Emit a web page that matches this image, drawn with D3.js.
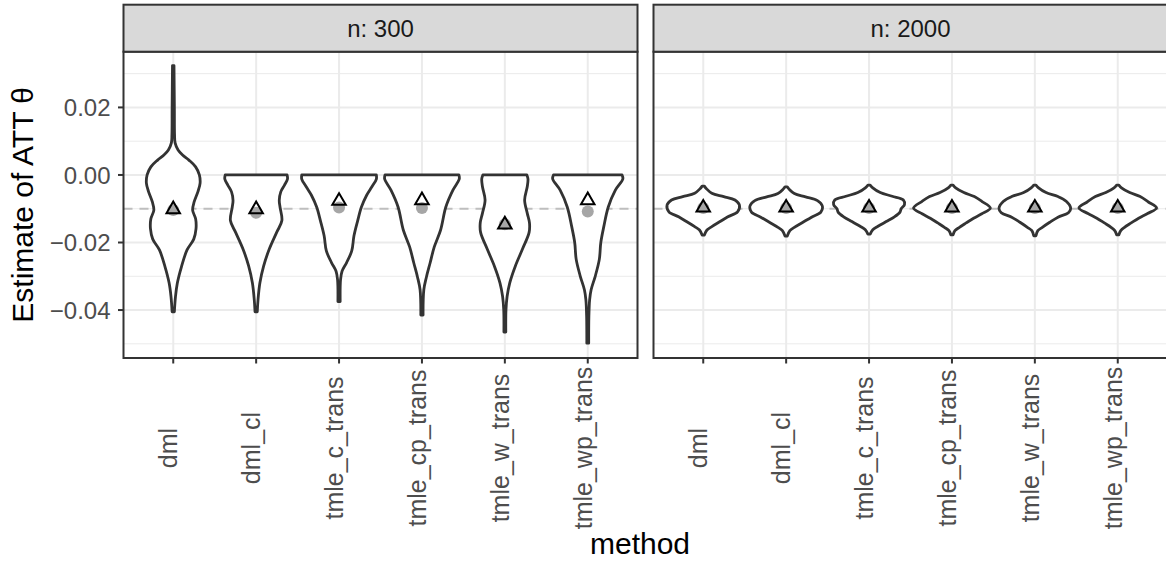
<!DOCTYPE html>
<html>
<head>
<meta charset="utf-8">
<script src="https://cdn.jsdelivr.net/npm/d3@7"></script>
<style>
  html, body { margin: 0; padding: 0; background: #fff; }
  text { font-family: "Liberation Sans", Arial, sans-serif; }
</style>
</head>
<body>
<div id="chart"></div>
<script>
/* Violin plots of ATT estimates by method, faceted by sample size */

const methods  = ['dml', 'dml_cl', 'tmle_c_trans', 'tmle_cp_trans', 'tmle_w_trans', 'tmle_wp_trans'];
const panels   = ['n: 300', 'n: 2000'];
const yTicks   = [-0.04, -0.02, 0.00, 0.02];
const yMinor   = [-0.05, -0.03, -0.01, 0.01, 0.03];
const yDomain  = [-0.0542, 0.0365];
const trueATT  = -0.01;

// gray dots (one per method)
const dotsN300  = [-0.0104, -0.0112, -0.0096, -0.0098, -0.0146, -0.0108];
const dotsN2000 = [-0.0098, -0.0098, -0.0098, -0.0098, -0.0098, -0.0098];
// triangles (one per method)
const triN300   = [-0.0102, -0.0102, -0.0077, -0.0075, -0.0147, -0.0075];
const triN2000  = [-0.0097, -0.0097, -0.0097, -0.0097, -0.0097, -0.0097];

// violin outlines: [value, relative half-width]
const violinsN300 = [
  [[0.0324,0.02],[0.020,0.03],[0.012,0.035],[0.0095,0.05],[0.0074,0.13],[0.0059,0.25],[0.0044,0.42],
   [0.0024,0.60],[0.0,0.70],[-0.0024,0.72],[-0.0050,0.66],[-0.0080,0.56],[-0.0104,0.52],[-0.0130,0.60],
   [-0.0160,0.61],[-0.0190,0.55],[-0.0222,0.37],[-0.0272,0.22],[-0.0320,0.11],[-0.0360,0.06],[-0.0405,0.03]],
  [[0.0,0.83],[-0.0012,0.84],[-0.0030,0.76],[-0.0050,0.66],[-0.0075,0.62],[-0.0095,0.64],[-0.0135,0.69],
   [-0.0170,0.55],[-0.0220,0.35],[-0.0270,0.20],[-0.0320,0.10],[-0.0370,0.05],[-0.0405,0.03]],
  [[0.0,1.00],[-0.0012,1.00],[-0.0035,0.88],[-0.0060,0.74],[-0.0095,0.60],[-0.0135,0.50],[-0.0180,0.40],
   [-0.0225,0.34],[-0.0260,0.20],[-0.0285,0.08],[-0.0310,0.04],[-0.0375,0.03]],
  [[0.0,0.99],[-0.0012,1.00],[-0.0045,0.83],[-0.0095,0.64],[-0.0163,0.50],[-0.0213,0.33],[-0.0260,0.22],
   [-0.0302,0.12],[-0.0340,0.05],[-0.0415,0.03]],
  [[0.0,0.59],[-0.0012,0.62],[-0.0035,0.60],[-0.0074,0.53],[-0.0113,0.60],[-0.0142,0.66],[-0.0170,0.65],
   [-0.0220,0.47],[-0.0270,0.28],[-0.0320,0.13],[-0.0360,0.06],[-0.0400,0.03],[-0.0465,0.025]],
  [[0.0,0.92],[-0.0012,0.94],[-0.0045,0.74],[-0.0095,0.55],[-0.0153,0.43],[-0.0200,0.35],[-0.0250,0.31],
   [-0.0300,0.20],[-0.0340,0.09],[-0.0370,0.05],[-0.0420,0.03],[-0.0498,0.025]]
];

const violinsN2000 = [
  [[-0.0033,0.03],[-0.0040,0.08],[-0.0054,0.23],[-0.0064,0.55],[-0.0074,0.85],[-0.0089,0.97],[-0.0109,0.92],
   [-0.0124,0.66],[-0.0138,0.45],[-0.0153,0.23],[-0.0163,0.10],[-0.0178,0.03]],
  [[-0.0035,0.03],[-0.0042,0.08],[-0.0055,0.22],[-0.0065,0.52],[-0.0076,0.84],[-0.0092,0.97],[-0.0110,0.93],
   [-0.0125,0.68],[-0.0140,0.45],[-0.0155,0.22],[-0.0165,0.10],[-0.0181,0.03]],
  [[-0.0030,0.03],[-0.0038,0.10],[-0.0052,0.30],[-0.0063,0.62],[-0.0074,0.92],[-0.0088,0.95],[-0.0100,0.86],
   [-0.0110,0.83],[-0.0124,0.68],[-0.0138,0.46],[-0.0152,0.24],[-0.0162,0.10],[-0.0175,0.03]],
  [[-0.0030,0.03],[-0.0038,0.10],[-0.0052,0.32],[-0.0064,0.60],[-0.0078,0.80],[-0.0098,1.03],[-0.0115,0.80],
   [-0.0128,0.58],[-0.0142,0.38],[-0.0155,0.20],[-0.0165,0.08],[-0.0177,0.03]],
  [[-0.0030,0.03],[-0.0038,0.10],[-0.0052,0.30],[-0.0064,0.62],[-0.0078,0.84],[-0.0098,0.96],[-0.0112,0.90],
   [-0.0125,0.62],[-0.0140,0.40],[-0.0155,0.20],[-0.0165,0.08],[-0.0180,0.03]],
  [[-0.0030,0.03],[-0.0038,0.10],[-0.0052,0.32],[-0.0064,0.60],[-0.0080,0.82],[-0.0098,1.04],[-0.0114,0.80],
   [-0.0128,0.56],[-0.0142,0.36],[-0.0155,0.18],[-0.0165,0.08],[-0.0177,0.03]]
];

/* ── Layout ─────────────────────────────────────────────── */
const W = 1166, H = 567;
const PANEL_TOP = 51.7, PANEL_BOT = 358;
const STRIP_TOP = 4.7;
const PANEL_X = [[123.5, 637.5], [653.5, 1167.5]];
const INK = '#333333';
const TICK_FS = 24, TITLE_FS = 30;

const svg = d3.select('#chart').append('svg')
  .attr('width', W).attr('height', H);

svg.append('rect').attr('width', W).attr('height', H).attr('fill', '#fff');

const y = d3.scaleLinear().domain(yDomain).range([PANEL_BOT, PANEL_TOP]);

const panelData = [
  { label: panels[0], violins: violinsN300,  dots: dotsN300,  tris: triN300 },
  { label: panels[1], violins: violinsN2000, dots: dotsN2000, tris: triN2000 }
];

panelData.forEach((p, pi) => {
  const [x0, x1] = PANEL_X[pi];
  const x = d3.scalePoint().domain(methods).range([x0, x1]).padding(0.6);
  const halfW = d3.scaleLinear().domain([0, 1]).range([0, x.step() * 0.45]);
  const g = svg.append('g');

  // grid
  g.selectAll('line.minor').data(yMinor).join('line')
    .attr('x1', x0).attr('x2', x1)
    .attr('y1', d => y(d)).attr('y2', d => y(d))
    .attr('stroke', '#EBEBEB').attr('stroke-width', 1);
  g.selectAll('line.major').data(yTicks).join('line')
    .attr('x1', x0).attr('x2', x1)
    .attr('y1', d => y(d)).attr('y2', d => y(d))
    .attr('stroke', '#EBEBEB').attr('stroke-width', 2);
  g.selectAll('line.vmajor').data(methods).join('line')
    .attr('x1', d => x(d)).attr('x2', d => x(d))
    .attr('y1', PANEL_TOP).attr('y2', PANEL_BOT)
    .attr('stroke', '#EBEBEB').attr('stroke-width', 2);

  // reference line
  g.append('line')
    .attr('x1', x0).attr('x2', x1)
    .attr('y1', y(trueATT)).attr('y2', y(trueATT))
    .attr('stroke', '#BEBEBE').attr('stroke-width', 2.2)
    .attr('stroke-dasharray', '9,7');

  // violins
  methods.forEach((m, mi) => {
    const cx = x(m);
    const area = d3.area()
      .y(d => y(d[0]))
      .x0(d => cx - halfW(d[1]))
      .x1(d => cx + halfW(d[1]))
      .curve(d3.curveCatmullRom.alpha(0.5));
    g.append('path')
      .attr('d', area(p.violins[mi]))
      .attr('fill', '#fff')
      .attr('stroke', INK).attr('stroke-width', 2.8)
      .attr('stroke-linejoin', 'round');
  });

  // dots
  g.selectAll('circle.dot').data(p.dots).join('circle')
    .attr('cx', (d, i) => x(methods[i])).attr('cy', d => y(d))
    .attr('r', 6).attr('fill', '#A6A6A6');

  // triangles (centroid on value)
  const r = 7.8;
  g.selectAll('path.tri').data(p.tris).join('path')
    .attr('d', (d, i) => {
      const cx = x(methods[i]), cy = y(d);
      return `M${cx},${cy - r}L${cx + r * 0.866},${cy + r / 2}L${cx - r * 0.866},${cy + r / 2}Z`;
    })
    .attr('fill', 'none').attr('stroke', '#000').attr('stroke-width', 2)
    .attr('stroke-linejoin', 'miter');

  // panel border
  g.append('rect')
    .attr('x', x0).attr('y', PANEL_TOP)
    .attr('width', x1 - x0).attr('height', PANEL_BOT - PANEL_TOP)
    .attr('fill', 'none').attr('stroke', INK).attr('stroke-width', 2);

  // strip
  g.append('rect')
    .attr('x', x0).attr('y', STRIP_TOP)
    .attr('width', x1 - x0).attr('height', PANEL_TOP - STRIP_TOP)
    .attr('fill', '#D9D9D9').attr('stroke', INK).attr('stroke-width', 2);
  g.append('text')
    .attr('x', (x0 + x1) / 2).attr('y', (STRIP_TOP + PANEL_TOP) / 2)
    .attr('dy', '0.35em').attr('text-anchor', 'middle')
    .attr('font-size', TICK_FS).attr('fill', '#1A1A1A')
    .text(p.label);

  // x ticks + labels
  g.selectAll('line.xtick').data(methods).join('line')
    .attr('x1', d => x(d)).attr('x2', d => x(d))
    .attr('y1', PANEL_BOT).attr('y2', PANEL_BOT + 5.5)
    .attr('stroke', INK).attr('stroke-width', 2);
  g.selectAll('text.xlab').data(methods).join('text')
    .attr('transform', d => `translate(${x(d)},448) rotate(-90)`)
    .attr('dy', '0.16em').attr('text-anchor', 'middle')
    .attr('font-size', 25).attr('fill', '#4D4D4D')
    .text(d => d);
});

/* ── Y axis ──────────────────────────────────────────────── */
const yAxisX = PANEL_X[0][0];
svg.selectAll('line.ytick').data(yTicks).join('line')
  .attr('x1', yAxisX - 5.5).attr('x2', yAxisX)
  .attr('y1', d => y(d)).attr('y2', d => y(d))
  .attr('stroke', INK).attr('stroke-width', 2);
svg.selectAll('text.ylab').data(yTicks).join('text')
  .attr('x', yAxisX - 13).attr('y', d => y(d))
  .attr('dy', '0.36em').attr('text-anchor', 'end')
  .attr('font-size', TICK_FS).attr('fill', '#4D4D4D')
  .text(d => d3.format('.2f')(d).replace('-', '\u2212'));

/* ── Axis titles ─────────────────────────────────────────── */
svg.append('text')
  .attr('transform', `translate(33,${(PANEL_TOP + PANEL_BOT) / 2}) rotate(-90)`)
  .attr('text-anchor', 'middle')
  .attr('font-size', TITLE_FS).attr('fill', '#000')
  .text('Estimate of ATT \u03B8');

svg.append('text')
  .attr('x', 640).attr('y', 554)
  .attr('text-anchor', 'middle')
  .attr('font-size', TITLE_FS).attr('fill', '#000')
  .text('method');
</script>
</body>
</html>
